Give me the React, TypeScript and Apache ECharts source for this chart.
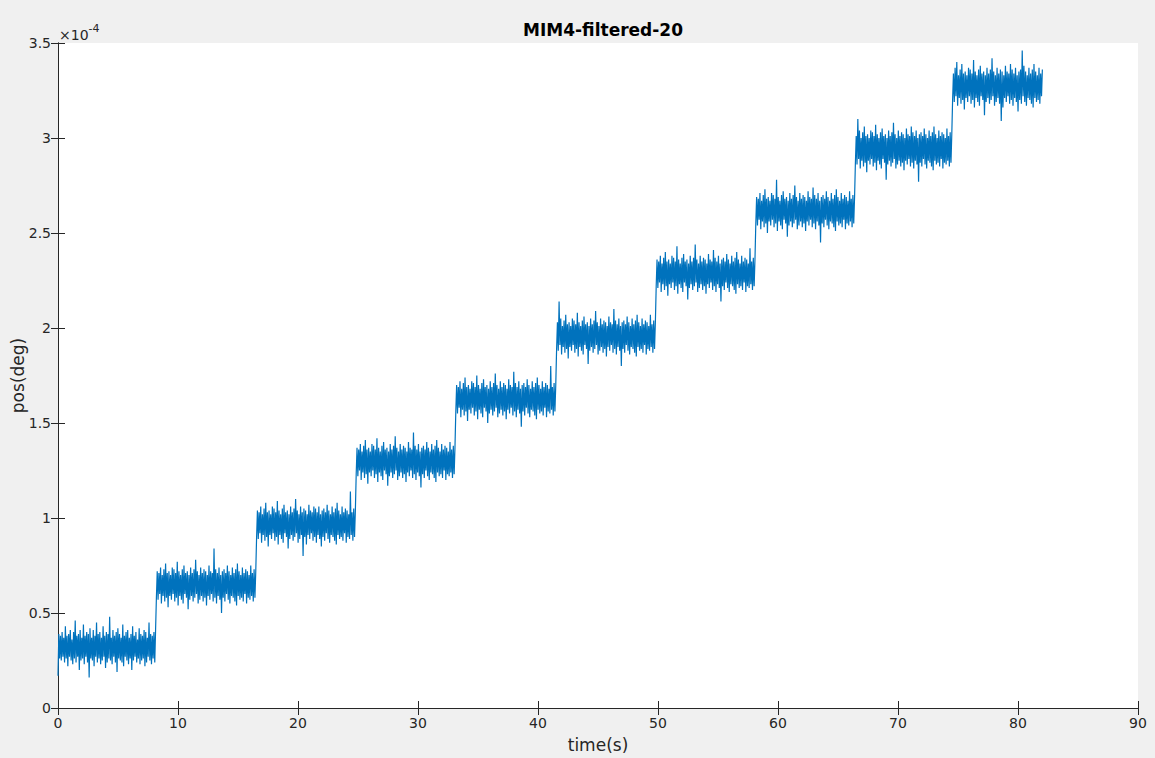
import React, { useEffect, useRef } from "react";
import * as echarts from "echarts";

// values in units of 1e-6 deg (shown on the axis in units of 1e-4)
const STEP_START = [0, 8.2, 16.55, 24.85, 33.15, 41.55, 49.85, 58.15, 66.45, 74.55];
const STEP_END = [8.2, 16.55, 24.85, 33.15, 41.55, 49.85, 58.15, 66.45, 74.55, 82.1];

const step1 = [17,39,26,38,25,40,27,37,24,43,26,38,22,39,27,41,25,36,23,40,
26,46,24,38,27,39,20,41,25,37,26,44,23,38,27,40,24,39,16,42,
26,37,25,41,22,38,27,45,24,39,26,40,23,37,25,43,27,38,21,40,
24,39,26,48,25,37,23,41,27,38,24,40,19,42,26,39,25,37,24,44,
22,38,27,40,25,41,23,37,26,39,20,43,25,38,27,40,24,36,26,42,
23,39,25,38,26,41,22,40,24,37,27,45,25,39,23,38,26,40,24,41];
const step2 = [58,72,57,71,60,74,55,70,59,73,56,76,58,71,53,72,59,70,57,74,
60,73,56,71,58,77,54,72,59,70,57,73,55,75,60,71,58,72,52,70,
57,74,59,71,56,73,58,78,60,72,55,70,57,74,59,71,56,73,58,72,
54,70,59,75,57,72,60,71,56,84,58,73,55,71,59,74,57,70,50,72,
58,73,56,71,60,75,57,72,55,70,59,74,58,71,56,73,54,76,59,72,
57,70,58,74,56,71,60,73,55,72,58,70,57,75,59,71,56,73,58,72];
const step3 = [90,104,89,103,92,106,87,102,91,105,88,108,90,103,85,104,91,102,89,106,
92,105,88,103,90,109,86,104,91,102,89,105,87,107,92,103,90,104,84,102,
89,106,91,103,88,105,90,110,92,104,87,102,89,106,91,103,80,105,90,104,
86,102,91,107,89,104,92,103,88,106,90,105,87,103,91,106,89,102,85,104,
90,105,88,103,92,107,89,104,87,102,91,106,90,103,88,105,86,108,91,104,
89,102,90,106,88,103,92,105,87,104,90,102,89,114,91,103,88,105,90,104];
const step4 = [123,137,122,136,125,139,120,135,124,138,121,141,123,136,118,137,124,135,122,139,
125,138,121,136,123,142,119,137,124,135,122,138,120,140,125,136,123,137,117,135,
122,139,124,136,121,138,123,143,125,137,120,135,122,139,124,136,121,138,123,137,
119,135,124,140,122,137,125,136,121,145,123,138,120,136,124,139,122,135,116,137,
123,138,121,136,125,140,122,137,120,135,124,139,123,136,121,138,119,141,124,137,
122,135,123,139,121,136,125,138,120,137,123,135,122,140,124,136,121,138,123,137];
const step5 = [156,170,155,169,158,172,153,168,157,171,154,174,156,169,151,170,157,168,155,172,
158,171,154,169,156,175,152,170,157,168,155,171,153,173,158,169,156,170,150,168,
155,172,157,169,154,171,156,176,158,170,153,168,155,172,157,169,154,171,156,170,
152,168,157,173,155,170,158,169,154,177,156,171,153,169,157,172,155,168,148,170,
156,171,154,169,158,173,155,170,153,168,157,172,156,169,154,171,152,174,157,170,
155,168,156,172,154,169,158,171,153,170,156,168,155,180,157,169,154,171,156,170];
const step6 = [189,203,188,214,191,205,186,201,190,204,187,207,189,202,184,203,190,201,188,205,
191,204,187,202,189,208,185,203,190,201,188,204,186,206,191,202,189,203,181,201,
188,205,190,202,187,204,189,209,191,203,186,201,188,205,190,202,187,204,189,203,
185,201,190,206,188,203,191,202,187,210,189,204,186,202,190,205,188,201,180,203,
189,204,187,202,191,206,188,203,186,201,190,205,189,202,187,204,185,207,190,203,
188,201,189,205,187,202,191,204,186,203,189,201,188,207,190,202,187,204,189,203];
const step7 = [222,236,221,235,224,238,219,234,223,237,220,240,222,235,217,236,223,234,221,238,
224,237,220,235,222,243,218,236,223,234,221,237,219,239,224,235,222,236,215,234,
221,238,223,235,220,237,222,244,224,236,219,234,221,238,223,235,220,237,222,236,
218,234,223,239,221,236,224,235,220,241,222,237,219,235,223,238,221,234,214,236,
222,237,220,235,224,239,221,236,219,234,223,238,222,235,220,237,218,240,223,236,
221,234,222,238,220,235,224,237,219,236,222,234,221,242,223,235,220,237,222,236];
const step8 = [255,269,254,268,257,271,252,267,256,270,253,273,255,268,250,269,256,267,254,271,
257,270,253,268,255,278,251,269,256,267,254,270,252,272,257,268,255,269,248,267,
254,271,256,268,253,270,255,275,257,269,252,267,254,271,256,268,253,270,255,269,
251,267,256,272,254,269,257,268,253,274,255,270,252,268,256,271,254,267,245,269,
255,270,253,268,257,272,254,269,252,267,256,271,255,268,253,270,251,273,256,269,
254,267,255,271,253,268,257,270,252,269,255,267,254,272,256,268,253,270,255,269];
const step9 = [287,301,286,310,289,304,284,300,288,303,285,306,287,301,282,302,288,300,286,304,
289,303,285,301,287,307,283,302,288,300,286,303,284,305,289,301,287,302,278,300,
286,304,288,301,285,303,287,308,289,302,284,300,286,304,288,301,285,303,287,302,
283,300,288,305,286,302,289,301,285,306,287,303,284,301,288,304,286,300,277,302,
287,303,285,301,289,305,286,302,284,300,288,304,287,301,285,303,283,306,288,302,
286,300,287,304,285,301,289,303,284,302,287,300,286,305,288,301,285,303,287,302];
const step10 = [320,334,319,337,322,340,317,333,321,336,318,339,320,334,315,335,321,333,319,337,
322,336,318,334,320,341,316,335,321,333,319,336,317,338,322,334,320,335,312,333,
319,337,321,334,318,336,320,342,322,335,317,333,319,337,321,334,318,336,309,335,
316,333,321,338,319,335,322,334,318,339,320,336,317,334,321,337,319,333,314,335,
320,336,318,346,322,338,319,335,317,333,321,337,320,334,318,336,316,339,321,335,
319,333,320,337,318,334,322,336];

const STEPS = [step1, step2, step3, step4, step5, step6, step7, step8, step9, step10];

const X_TICKS = { min: 0, max: 90, interval: 10 };
const Y_TICKS = { min: 0, max: 3.5, interval: 0.5 };

const TITLE = "MIM4-filtered-20";
const X_NAME = "time(s)";
const Y_NAME = "pos(deg)";

const AX = "#262626";
const FONT = "DejaVu Sans, sans-serif";

function buildData(): [number, number][] {
  const out: [number, number][] = [];
  STEPS.forEach((vals, k) => {
    const s = STEP_START[k];
    const e = STEP_END[k];
    const dt = (e - s) / vals.length;
    vals.forEach((v, j) => out.push([s + j * dt, v / 100]));
  });
  return out;
}

export default function App() {
  const ref = useRef<HTMLDivElement>(null);
  useEffect(() => {
    if (!ref.current) return;
    const chart = echarts.init(ref.current, undefined, { renderer: "svg" });
    const gridL = 58, gridR = 17, gridT = 43, gridB = 50;
    const hiddenLabels = { show: false };
    chart.setOption({
      animation: false,
      backgroundColor: "#f0f0f0",
      title: {
        text: TITLE,
        left: (58 + 1138) / 2,
        textAlign: "center",
        top: 16,
        textStyle: { fontFamily: FONT, fontSize: 17, fontWeight: "bold", color: "#000" },
      },
      grid: {
        left: gridL, right: gridR, top: gridT, bottom: gridB,
        containLabel: false, outerBoundsMode: "none",
        show: true, backgroundColor: "#fff", borderWidth: 0,
      },
      xAxis: [
        {
          type: "value", ...X_TICKS, position: "bottom",
          name: X_NAME, nameLocation: "middle", nameGap: 28, nameMoveOverlap: false,
          nameTextStyle: { fontFamily: FONT, fontSize: 17, color: AX },
          axisLine: { show: true, lineStyle: { color: AX, width: 1 } },
          axisTick: { show: true, inside: true, length: 7, lineStyle: { color: AX } },
          axisLabel: { fontFamily: FONT, fontSize: 14, color: AX, margin: 8 },
          splitLine: { show: false },
        },
        {
          type: "value", ...X_TICKS, position: "top",
          axisLine: { show: true, lineStyle: { color: AX, width: 1 } },
          axisTick: { show: true, inside: true, length: 7, lineStyle: { color: AX } },
          axisLabel: hiddenLabels, splitLine: { show: false },
        },
      ],
      yAxis: [
        {
          type: "value", ...Y_TICKS, position: "left",
          name: Y_NAME, nameLocation: "middle", nameGap: 32, nameRotate: 90, nameMoveOverlap: false,
          nameTextStyle: { fontFamily: FONT, fontSize: 17, color: AX },
          axisLine: { show: true, lineStyle: { color: AX, width: 1 } },
          axisTick: { show: true, inside: true, length: 7, lineStyle: { color: AX } },
          axisLabel: { fontFamily: FONT, fontSize: 14, color: AX, margin: 7 },
          splitLine: { show: false },
        },
        {
          type: "value", ...Y_TICKS, position: "right",
          axisLine: { show: true, lineStyle: { color: AX, width: 1 } },
          axisTick: { show: true, inside: true, length: 7, lineStyle: { color: AX } },
          axisLabel: hiddenLabels, splitLine: { show: false },
        },
      ],
      graphic: [
        {
          type: "text",
          left: 59,
          top: 23,
          style: {
            text: "{a|×10}{b|-4}",
            rich: {
              a: { fontFamily: FONT, fontSize: 14, fill: AX, verticalAlign: "bottom" },
              b: { fontFamily: FONT, fontSize: 11, fill: AX, verticalAlign: "top", padding: [0, 0, 8, 0] },
            },
          },
        },
      ],
      series: [
        {
          type: "line",
          data: buildData(),
          showSymbol: false,
          symbol: "none",
          clip: true,
          lineStyle: { color: "#0072BD", width: 1.2 },
          xAxisIndex: 0,
          yAxisIndex: 0,
        },
      ],
    });
    return () => chart.dispose();
  }, []);
  return <div ref={ref} style={{ position: "fixed", left: 0, top: 0, width: 1155, height: 758 }} />;
}
